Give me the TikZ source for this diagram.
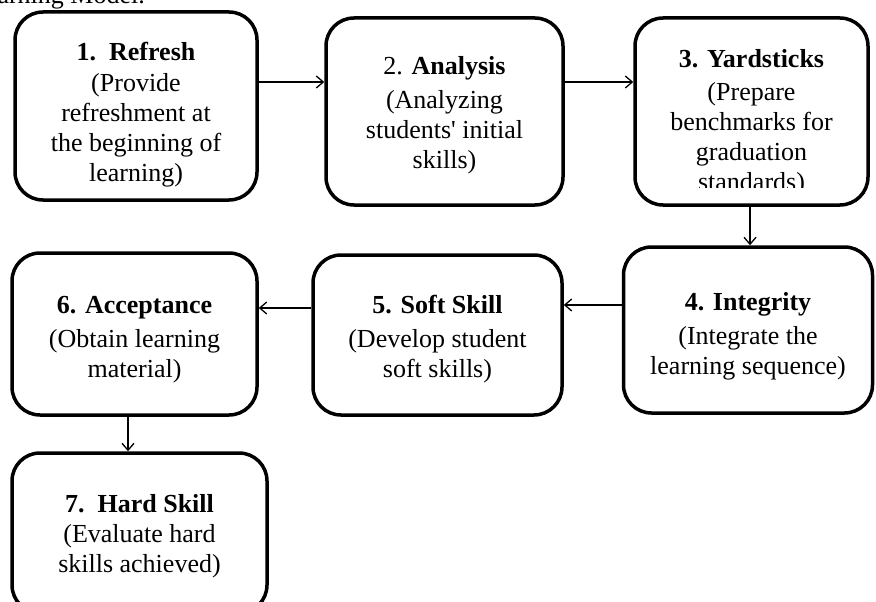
\documentclass[tikz,border=0pt]{standalone}
\usepackage{fontspec}
\setmainfont{Liberation Serif}[Ligatures=TeXOff]
\usetikzlibrary{arrows.meta,calc}
\begin{document}
\begin{tikzpicture}[x=1pt,y=-1pt,
  stagebox/.style={draw=black,line width=3.5pt,rounded corners=28pt,fill=white,inner sep=0pt},
  boxtext/.style={align=center,inner sep=0pt,font=\fontsize{26}{30}\selectfont},
  flow/.style={draw=black,line width=1.3pt,-{Straight Barb[length=7pt,width=12pt]}},
  caption/.style={font=\fontsize{26}{30}\selectfont,inner sep=0pt}]
\useasboundingbox[fill=white] (0,0) rectangle (876,602);
\begin{scope}
\clip (0,0) rectangle (876,602);
\node[caption,anchor=base east] (cap) at (145,4) {Learning Model.};

\node[stagebox,minimum width=242pt,minimum height=188pt] (b1) at (136,106) {};
\node[boxtext] (t1) at ([yshift=-9pt]b1.center)
  {\textbf{1.\ \ Refresh}\\[1pt](Provide\\refreshment at\\the beginning of\\learning)};
\node[stagebox,minimum width=237pt,minimum height=187pt] (b2) at (444.5,111.5) {};
\node[boxtext] (t2) at ([yshift=-4pt]b2.center)
  {2. \textbf{Analysis}\\[4pt](Analyzing\\students' initial\\skills)};
\node[stagebox,minimum width=233pt,minimum height=187pt] (b3) at (751.5,111.5) {};
\begin{scope}
\clip (636,20) rectangle (868,187);
\node[boxtext,anchor=north] (t3) at (751.5,49)
  {\textbf{3. Yardsticks}\\[3pt](Prepare\\benchmarks for\\graduation\\standards)};
\end{scope}
\node[stagebox,minimum width=249pt,minimum height=166pt] (b4) at (748,330) {};
\node[boxtext] (t4) at ([yshift=-6pt]b4.center)
  {\textbf{4. Integrity}\\[4pt](Integrate the\\learning sequence)};
\node[stagebox,minimum width=249pt,minimum height=160pt] (b5) at (437.5,335) {};
\node[boxtext] (t5) at ([yshift=-4pt]b5.center)
  {\textbf{5. Soft Skill}\\[4pt](Develop student\\soft skills)};
\node[stagebox,minimum width=245pt,minimum height=162pt] (b6) at (134.5,334) {};
\node[boxtext] (t6) at ([yshift=-6pt]b6.center)
  {\textbf{6. Acceptance}\\[4pt](Obtain learning\\material)};
\node[stagebox,minimum width=255pt,minimum height=160pt] (b7) at (139.5,533) {};
\node[boxtext] (t7) at ([yshift=-3pt]b7.center)
  {\textbf{7.\ \ Hard Skill}\\(Evaluate hard\\skills achieved)};

\coordinate (r12) at (0,82);
\coordinate (r23) at (0,82);
\coordinate (c34) at (750,0);
\coordinate (r45) at (0,305);
\coordinate (r56) at (0,308);
\coordinate (c67) at (128,0);
\draw[flow] (b1.east |- r12) -- (b2.west |- r12);
\draw[flow] (b2.east |- r23) -- (b3.west |- r23);
\draw[flow] (c34 |- b3.south) -- (c34 |- b4.north);
\draw[flow] (b4.west |- r45) -- (b5.east |- r45);
\draw[flow] (b5.west |- r56) -- (b6.east |- r56);
\draw[flow] (c67 |- b6.south) -- (c67 |- b7.north);
\end{scope}
\end{tikzpicture}
\end{document}
